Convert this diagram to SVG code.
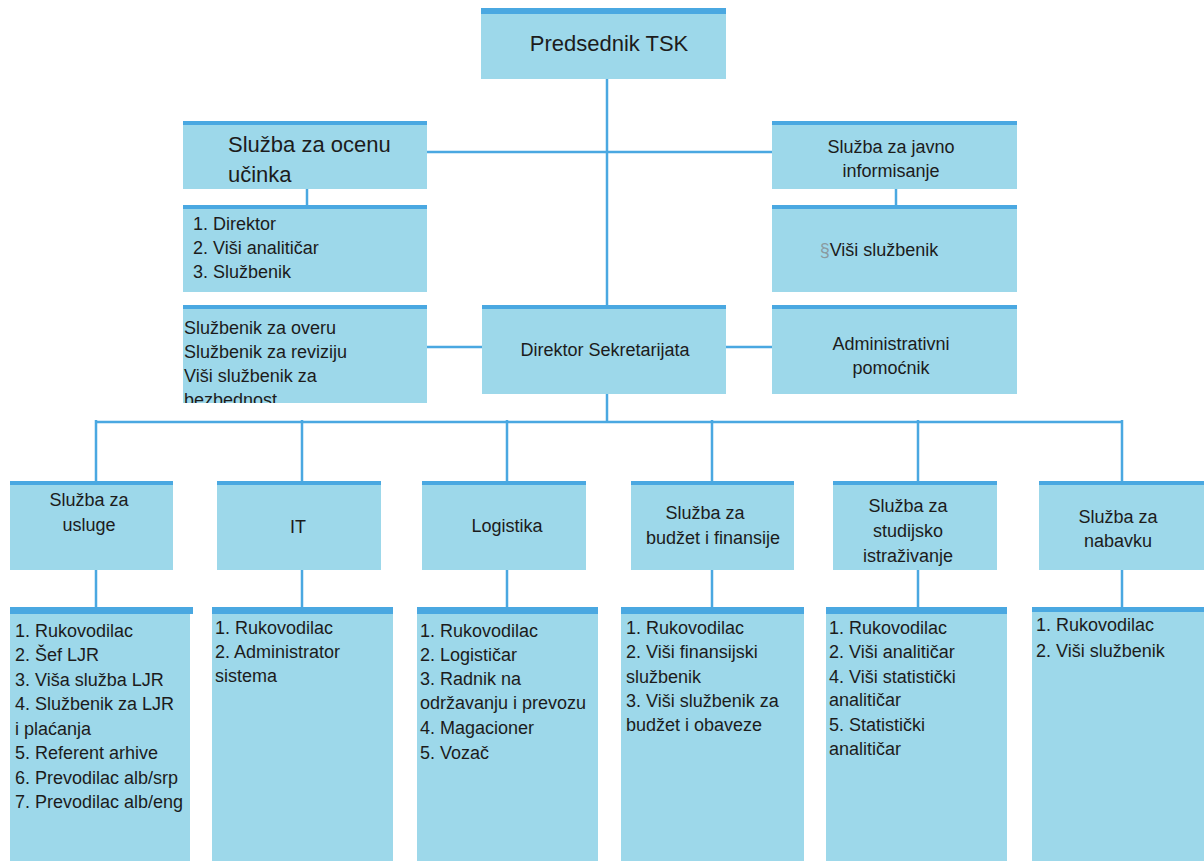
<svg xmlns="http://www.w3.org/2000/svg" width="1204" height="861" viewBox="0 0 1204 861">
<style>
.box{fill:#9dd8ea;}
.bar{fill:#4aa8e1;}
.ln{stroke:#4aa8e1;stroke-width:2.5;fill:none;}
text{font-family:"Liberation Sans",Arial,sans-serif;font-size:18px;fill:#1c1c1c;}
.c{text-anchor:middle;}
.big{font-size:22px;}
</style>
<defs>
<clipPath id="clipL3"><rect x="183" y="305" width="244" height="98"/></clipPath>
</defs>
<rect width="1204" height="861" fill="#ffffff"/>
<g id="connectors">
<path class="ln" d="M607 79V306"/>
<path class="ln" d="M427 152H772"/>
<path class="ln" d="M307 189V206"/>
<path class="ln" d="M896 189V206"/>
<path class="ln" d="M427 347H482"/>
<path class="ln" d="M726 347H772"/>
<path class="ln" d="M607 394V422"/>
<path class="ln" d="M96 422H1123"/>
<path class="ln" d="M96 420V482M302 420V482M507 420V482M712 420V482M918 420V482M1122 420V482"/>
<path class="ln" d="M96 570V608M302 570V608M507 570V608M712 570V608M918 570V608M1122 570V608"/>
</g>
<g id="predsednik">
<rect class="box" x="481" y="8" width="245" height="71"/>
<rect class="bar" x="481" y="8" width="245" height="6"/>
<text class="c big" x="609" y="51">Predsednik TSK</text>
</g>
<g id="ocena">
<rect class="box" x="183" y="121" width="244" height="68"/>
<rect class="bar" x="183" y="121" width="244" height="4"/>
<text class="big" x="228" y="152">Služba za ocenu</text>
<text class="big" x="228" y="182">učinka</text>
</g>
<g id="javno">
<rect class="box" x="772" y="121" width="245" height="68"/>
<rect class="bar" x="772" y="121" width="245" height="4"/>
<text class="c" x="891" y="153">Služba za javno</text>
<text class="c" x="891" y="177">informisanje</text>
</g>
<g id="ocena-lista">
<rect class="box" x="183" y="205" width="244" height="87"/>
<rect class="bar" x="183" y="205" width="244" height="4"/>
<text x="193" y="230">1. Direktor</text>
<text x="193" y="254">2. Viši analitičar</text>
<text x="193" y="278">3. Službenik</text>
</g>
<g id="visi-sluzbenik">
<rect class="box" x="772" y="205" width="245" height="87"/>
<rect class="bar" x="772" y="205" width="245" height="4"/>
<text class="c" x="879" y="256"><tspan fill="#8a9aa0">§</tspan>Viši službenik</text>
</g>
<g id="overa">
<rect class="box" x="183" y="305" width="244" height="98"/>
<rect class="bar" x="183" y="305" width="244" height="4"/>
<g clip-path="url(#clipL3)">
<text x="184" y="334">Službenik za overu</text>
<text x="184" y="358">Službenik za reviziju</text>
<text x="184" y="382">Viši službenik za</text>
<text x="184" y="406">bezbednost</text>
</g>
</g>
<g id="direktor">
<rect class="box" x="482" y="305" width="244" height="89"/>
<rect class="bar" x="482" y="305" width="244" height="4"/>
<text class="c" x="605" y="356">Direktor Sekretarijata</text>
</g>
<g id="admin">
<rect class="box" x="772" y="305" width="245" height="89"/>
<rect class="bar" x="772" y="305" width="245" height="4"/>
<text class="c" x="891" y="350">Administrativni</text>
<text class="c" x="891" y="374">pomoćnik</text>
</g>
<g id="usluge">
<rect class="box" x="10" y="481" width="163" height="89"/>
<rect class="bar" x="10" y="481" width="163" height="4"/>
<text class="c" x="89" y="506">Služba za</text>
<text class="c" x="89" y="531">usluge</text>
</g>
<g id="it">
<rect class="box" x="217" y="481" width="164" height="89"/>
<rect class="bar" x="217" y="481" width="164" height="4"/>
<text class="c" x="298" y="533">IT</text>
</g>
<g id="logistika">
<rect class="box" x="422" y="481" width="164" height="89"/>
<rect class="bar" x="422" y="481" width="164" height="4"/>
<text class="c" x="507" y="532">Logistika</text>
</g>
<g id="budzet">
<rect class="box" x="631" y="481" width="163" height="89"/>
<rect class="bar" x="631" y="481" width="163" height="4"/>
<text class="c" x="705" y="519">Služba za</text>
<text class="c" x="713" y="544">budžet i finansije</text>
</g>
<g id="studijsko">
<rect class="box" x="833" y="481" width="164" height="89"/>
<rect class="bar" x="833" y="481" width="164" height="4"/>
<text class="c" x="908" y="512">Služba za</text>
<text class="c" x="908" y="537">studijsko</text>
<text class="c" x="908" y="562">istraživanje</text>
</g>
<g id="nabavka">
<rect class="box" x="1039" y="481" width="165" height="89"/>
<rect class="bar" x="1039" y="481" width="165" height="4"/>
<text class="c" x="1118" y="523">Služba za</text>
<text class="c" x="1118" y="547">nabavku</text>
</g>
<g id="usluge-lista">
<rect class="box" x="10" y="607" width="180" height="254"/>
<rect class="bar" x="10" y="607" width="183" height="7"/>
<text x="15" y="637">1. Rukovodilac</text>
<text x="15" y="661">2. Šef LJR</text>
<text x="15" y="686">3. Viša služba LJR</text>
<text x="15" y="710">4. Službenik za LJR</text>
<text x="15" y="735">i plaćanja</text>
<text x="15" y="759">5. Referent arhive</text>
<text x="15" y="784">6. Prevodilac alb/srp</text>
<text x="15" y="808">7. Prevodilac alb/eng</text>
</g>
<g id="it-lista">
<rect class="box" x="212" y="607" width="181" height="254"/>
<rect class="bar" x="212" y="607" width="181" height="7"/>
<text x="215" y="634">1. Rukovodilac</text>
<text x="215" y="658">2. Administrator</text>
<text x="215" y="682">sistema</text>
</g>
<g id="logistika-lista">
<rect class="box" x="417" y="607" width="181" height="254"/>
<rect class="bar" x="417" y="607" width="181" height="7"/>
<text x="420" y="637">1. Rukovodilac</text>
<text x="420" y="661">2. Logističar</text>
<text x="420" y="685">3. Radnik na</text>
<text x="420" y="709">održavanju i prevozu</text>
<text x="420" y="734">4. Magacioner</text>
<text x="420" y="759">5. Vozač</text>
</g>
<g id="budzet-lista">
<rect class="box" x="621" y="607" width="183" height="254"/>
<rect class="bar" x="621" y="607" width="183" height="7"/>
<text x="626" y="634">1. Rukovodilac</text>
<text x="626" y="658">2. Viši finansijski</text>
<text x="626" y="683">službenik</text>
<text x="626" y="707">3. Viši službenik za</text>
<text x="626" y="731">budžet i obaveze</text>
</g>
<g id="studijsko-lista">
<rect class="box" x="826" y="607" width="181" height="254"/>
<rect class="bar" x="826" y="607" width="181" height="7"/>
<text x="829" y="634">1. Rukovodilac</text>
<text x="829" y="658">2. Viši analitičar</text>
<text x="829" y="683">4. Viši statistički</text>
<text x="829" y="706">analitičar</text>
<text x="829" y="731">5. Statistički</text>
<text x="829" y="755">analitičar</text>
</g>
<g id="nabavka-lista">
<rect class="box" x="1032" y="607" width="172" height="254"/>
<rect class="bar" x="1032" y="607" width="172" height="5"/>
<text x="1036" y="631">1. Rukovodilac</text>
<text x="1036" y="657">2. Viši službenik</text>
</g>
</svg>
